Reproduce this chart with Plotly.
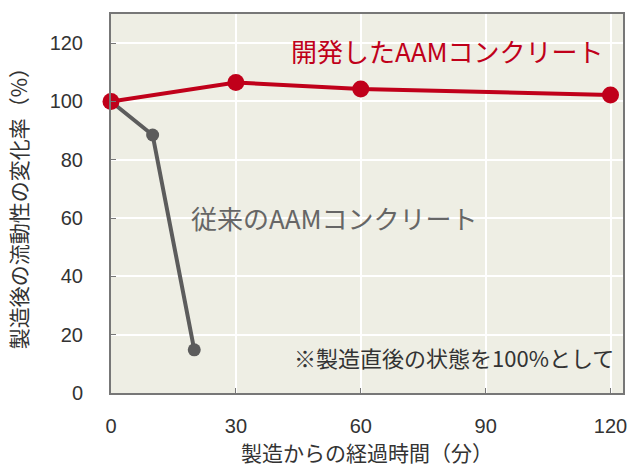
import plotly.graph_objects as go

new_x = [0, 30, 60, 120]
new_y = [100, 106.5, 104.3, 102.2]
old_x = [0, 10, 20]
old_y = [100, 88.5, 14.8]

x_ticks = [0, 30, 60, 90, 120]
y_ticks = [0, 20, 40, 60, 80, 100, 120]

new_label = "開発したAAMコンクリート"
old_label = "従来のAAMコンクリート"
note = "※製造直後の状態を100%として"
x_title = "製造からの経過時間（分）"
y_title = "製造後の流動性の変化率（%）"

RED = "#C0001A"
GRAY = "#5C5C5C"
FONT = "Noto Sans CJK JP"
TICKFONT = "Liberation Sans"

fig = go.Figure()
fig.add_trace(go.Scatter(x=old_x, y=old_y, mode="lines+markers",
                         line=dict(color=GRAY, width=4),
                         marker=dict(color=GRAY, size=13),
                         showlegend=False, cliponaxis=False))
fig.add_trace(go.Scatter(x=new_x, y=new_y, mode="lines+markers",
                         line=dict(color=RED, width=4),
                         marker=dict(color=RED, size=17),
                         showlegend=False, cliponaxis=False))

fig.add_annotation(x=0.657, y=0.903, xref="paper", yref="paper", text=new_label,
                   xanchor="center", yanchor="middle",
                   showarrow=False, font=dict(family=FONT, size=26, color=RED))
fig.add_annotation(x=0.436, y=0.464, xref="paper", yref="paper", text=old_label,
                   xanchor="center", yanchor="middle",
                   showarrow=False, font=dict(family=FONT, size=26, color="#666666"))
fig.add_annotation(x=0.987, y=0.095, xref="paper", yref="paper", text=note,
                   xanchor="right", yanchor="middle", showarrow=False,
                   font=dict(family=FONT, size=22, color="#333333"))
fig.add_annotation(x=0.5, y=-0.156, xref="paper", yref="paper", text=x_title,
                   xanchor="center", yanchor="middle", showarrow=False,
                   font=dict(family=FONT, size=21, color="#333333"))
fig.add_annotation(x=-0.182, y=0.5, xref="paper", yref="paper", text=y_title,
                   xanchor="center", yanchor="middle",
                   textangle=-90, showarrow=False,
                   font=dict(family=FONT, size=21, color="#333333"))

fig.update_xaxes(range=[0, 123], tickvals=x_ticks, ticks="inside", ticklen=5,
                 tickcolor="#777777", showgrid=True, gridcolor="white", gridwidth=1.5,
                 showline=True, linecolor="#777777", linewidth=2, mirror=True,
                 zeroline=False, ticklabelstandoff=14,
                 tickfont=dict(family=TICKFONT, size=20, color="#333333"))
fig.update_yaxes(range=[0, 130], tickvals=y_ticks, ticks="inside", ticklen=5,
                 tickcolor="#777777", showgrid=True, gridcolor="white", gridwidth=1.5,
                 showline=True, linecolor="#777777", linewidth=2, mirror=True,
                 zeroline=False, ticklabelstandoff=22,
                 tickfont=dict(family=TICKFONT, size=20, color="#333333"))

fig.update_layout(width=637, height=468,
                  margin=dict(l=111, r=10, t=14, b=75),
                  plot_bgcolor="#EEEEE4", paper_bgcolor="white",
                  font=dict(family=FONT))

fig.write_html("out.html")
